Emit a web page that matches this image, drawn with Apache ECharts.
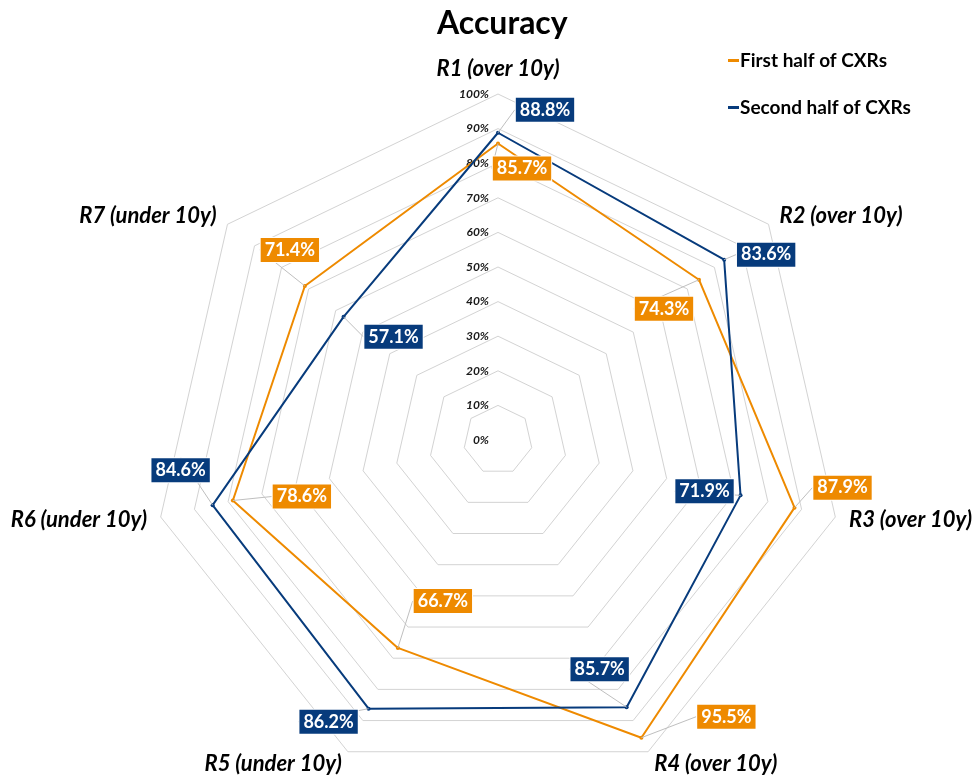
<!DOCTYPE html>
<html>
<head>
<meta charset="utf-8">
<script src="https://cdn.jsdelivr.net/npm/echarts@6/dist/echarts.min.js"></script>
<style>
  html, body { margin: 0; padding: 0; background: #fff; }
  #chart { width: 979px; height: 778px; }
</style>
</head>
<body>
<div id="chart"></div>
<script>
// 数据
const categories = ['R1 (over 10y)', 'R2 (over 10y)', 'R3 (over 10y)', 'R4 (over 10y)', 'R5 (under 10y)', 'R6 (under 10y)', 'R7 (under 10y)']
const firstHalf = [85.7, 74.3, 87.9, 95.5, 66.7, 78.6, 71.4]
const secondHalf = [88.8, 83.6, 71.9, 85.7, 86.2, 84.6, 57.1]
const seriesNames = ['First half of CXRs', 'Second half of CXRs']
const tickValues = [0, 10, 20, 30, 40, 50, 60, 70, 80, 90, 100]

// 标签偏移 (label box centre relative to its point)
const firstOffsets = [[24, 25], [-35, 29], [48, -20], [85, -21], [45, -47], [69, -4], [-15, -36]]
const secondOffsets = [[47, -23], [42, -5], [-36, -4], [-27, -38], [-40, 13], [-32, -35], [50, 20]]

const ORANGE = '#EE8A00'
const NAVY = '#073B7C'
const FONT = 'Lato, "Liberation Sans", sans-serif'
const CENTER = [498, 440]
const RADIUS = 346

// radar goes counter-clockwise, so feed it the axes in reverse order
const order = [0, 6, 5, 4, 3, 2, 1]
const radarOf = arr => order.map(i => arr[i])

const chart = echarts.init(document.getElementById('chart'))

function labelSeries(name, values, offsets, color) {
  return {
    name: name + ' labels',
    type: 'scatter',
    coordinateSystem: 'polar',
    symbolSize: 0,
    z: 5,
    itemStyle: { opacity: 1 },
    emphasis: { disabled: true },
    data: values.map((v, i) => [v, i]),
    label: {
      show: true,
      position: 'inside',
      formatter: p => p.value[0].toFixed(1) + '%',
      backgroundColor: color,
      color: '#fff',
      opacity: 1,
      fontFamily: FONT,
      fontWeight: 'bold',
      fontSize: 18,
      padding: [4, 4, 2, 4],
      borderColor: '#ffffff',
      borderWidth: 1
    },
    labelLine: {
      show: true,
      lineStyle: { color: '#BFBFBF', width: 1, opacity: 1 }
    },
    labelLayout: p => ({ dx: offsets[p.dataIndex][0], dy: offsets[p.dataIndex][1] }),
    tooltip: { show: false }
  }
}

const option = {
  backgroundColor: '#fff',
  title: {
    text: 'Accuracy',
    left: 432,
    top: 3,
    textStyle: { fontFamily: FONT, fontWeight: 'bold', fontSize: 32, color: '#000' }
  },
  legend: {
    data: seriesNames,
    orient: 'vertical',
    left: 723,
    top: 46,
    itemGap: 28,
    icon: 'rect',
    itemWidth: 11,
    itemHeight: 3,
    textStyle: { fontFamily: FONT, fontWeight: 'bold', fontSize: 19, color: '#000', padding: [0, 0, 0, -4] }
  },
  radar: {
    center: CENTER,
    radius: RADIUS,
    startAngle: 90,
    shape: 'polygon',
    splitNumber: 10,
    indicator: radarOf(categories).map(n => ({ name: n, min: 0, max: 100 })),
    axisName: {
      color: '#000',
      fontFamily: FONT,
      fontWeight: 'bold',
      fontStyle: 'italic',
      fontSize: 22
    },
    nameGap: 14,
    axisLine: { show: false },
    axisTick: { show: false },
    axisLabel: { show: false },
    splitArea: { show: false },
    splitLine: { lineStyle: { color: '#D3D3D3', width: 1 } }
  },
  polar: { center: CENTER, radius: RADIUS },
  angleAxis: {
    type: 'value',
    min: 0,
    max: 7,
    startAngle: 90,
    clockwise: true,
    show: false
  },
  radiusAxis: {
    type: 'value',
    min: 0,
    max: 100,
    interval: 10,
    axisLine: { show: false },
    axisTick: { show: false },
    splitLine: { show: false },
    axisLabel: {
      formatter: '{value}%',
      fontFamily: FONT,
      fontWeight: 'bold',
      fontStyle: 'italic',
      fontSize: 12,
      color: '#1a1a1a',
      margin: 9
    }
  },
  series: [
    {
      type: 'radar',
      symbol: 'circle',
      symbolSize: 4,
      z: 3,
      data: [
        {
          name: seriesNames[0],
          value: radarOf(firstHalf),
          itemStyle: { color: ORANGE },
          lineStyle: { color: ORANGE, width: 2 }
        },
        {
          name: seriesNames[1],
          value: radarOf(secondHalf),
          itemStyle: { color: NAVY },
          lineStyle: { color: NAVY, width: 2 }
        }
      ]
    },
    labelSeries(seriesNames[0], firstHalf, firstOffsets, ORANGE),
    labelSeries(seriesNames[1], secondHalf, secondOffsets, NAVY)
  ]
}

chart.setOption(option)
</script>
</body>
</html>
